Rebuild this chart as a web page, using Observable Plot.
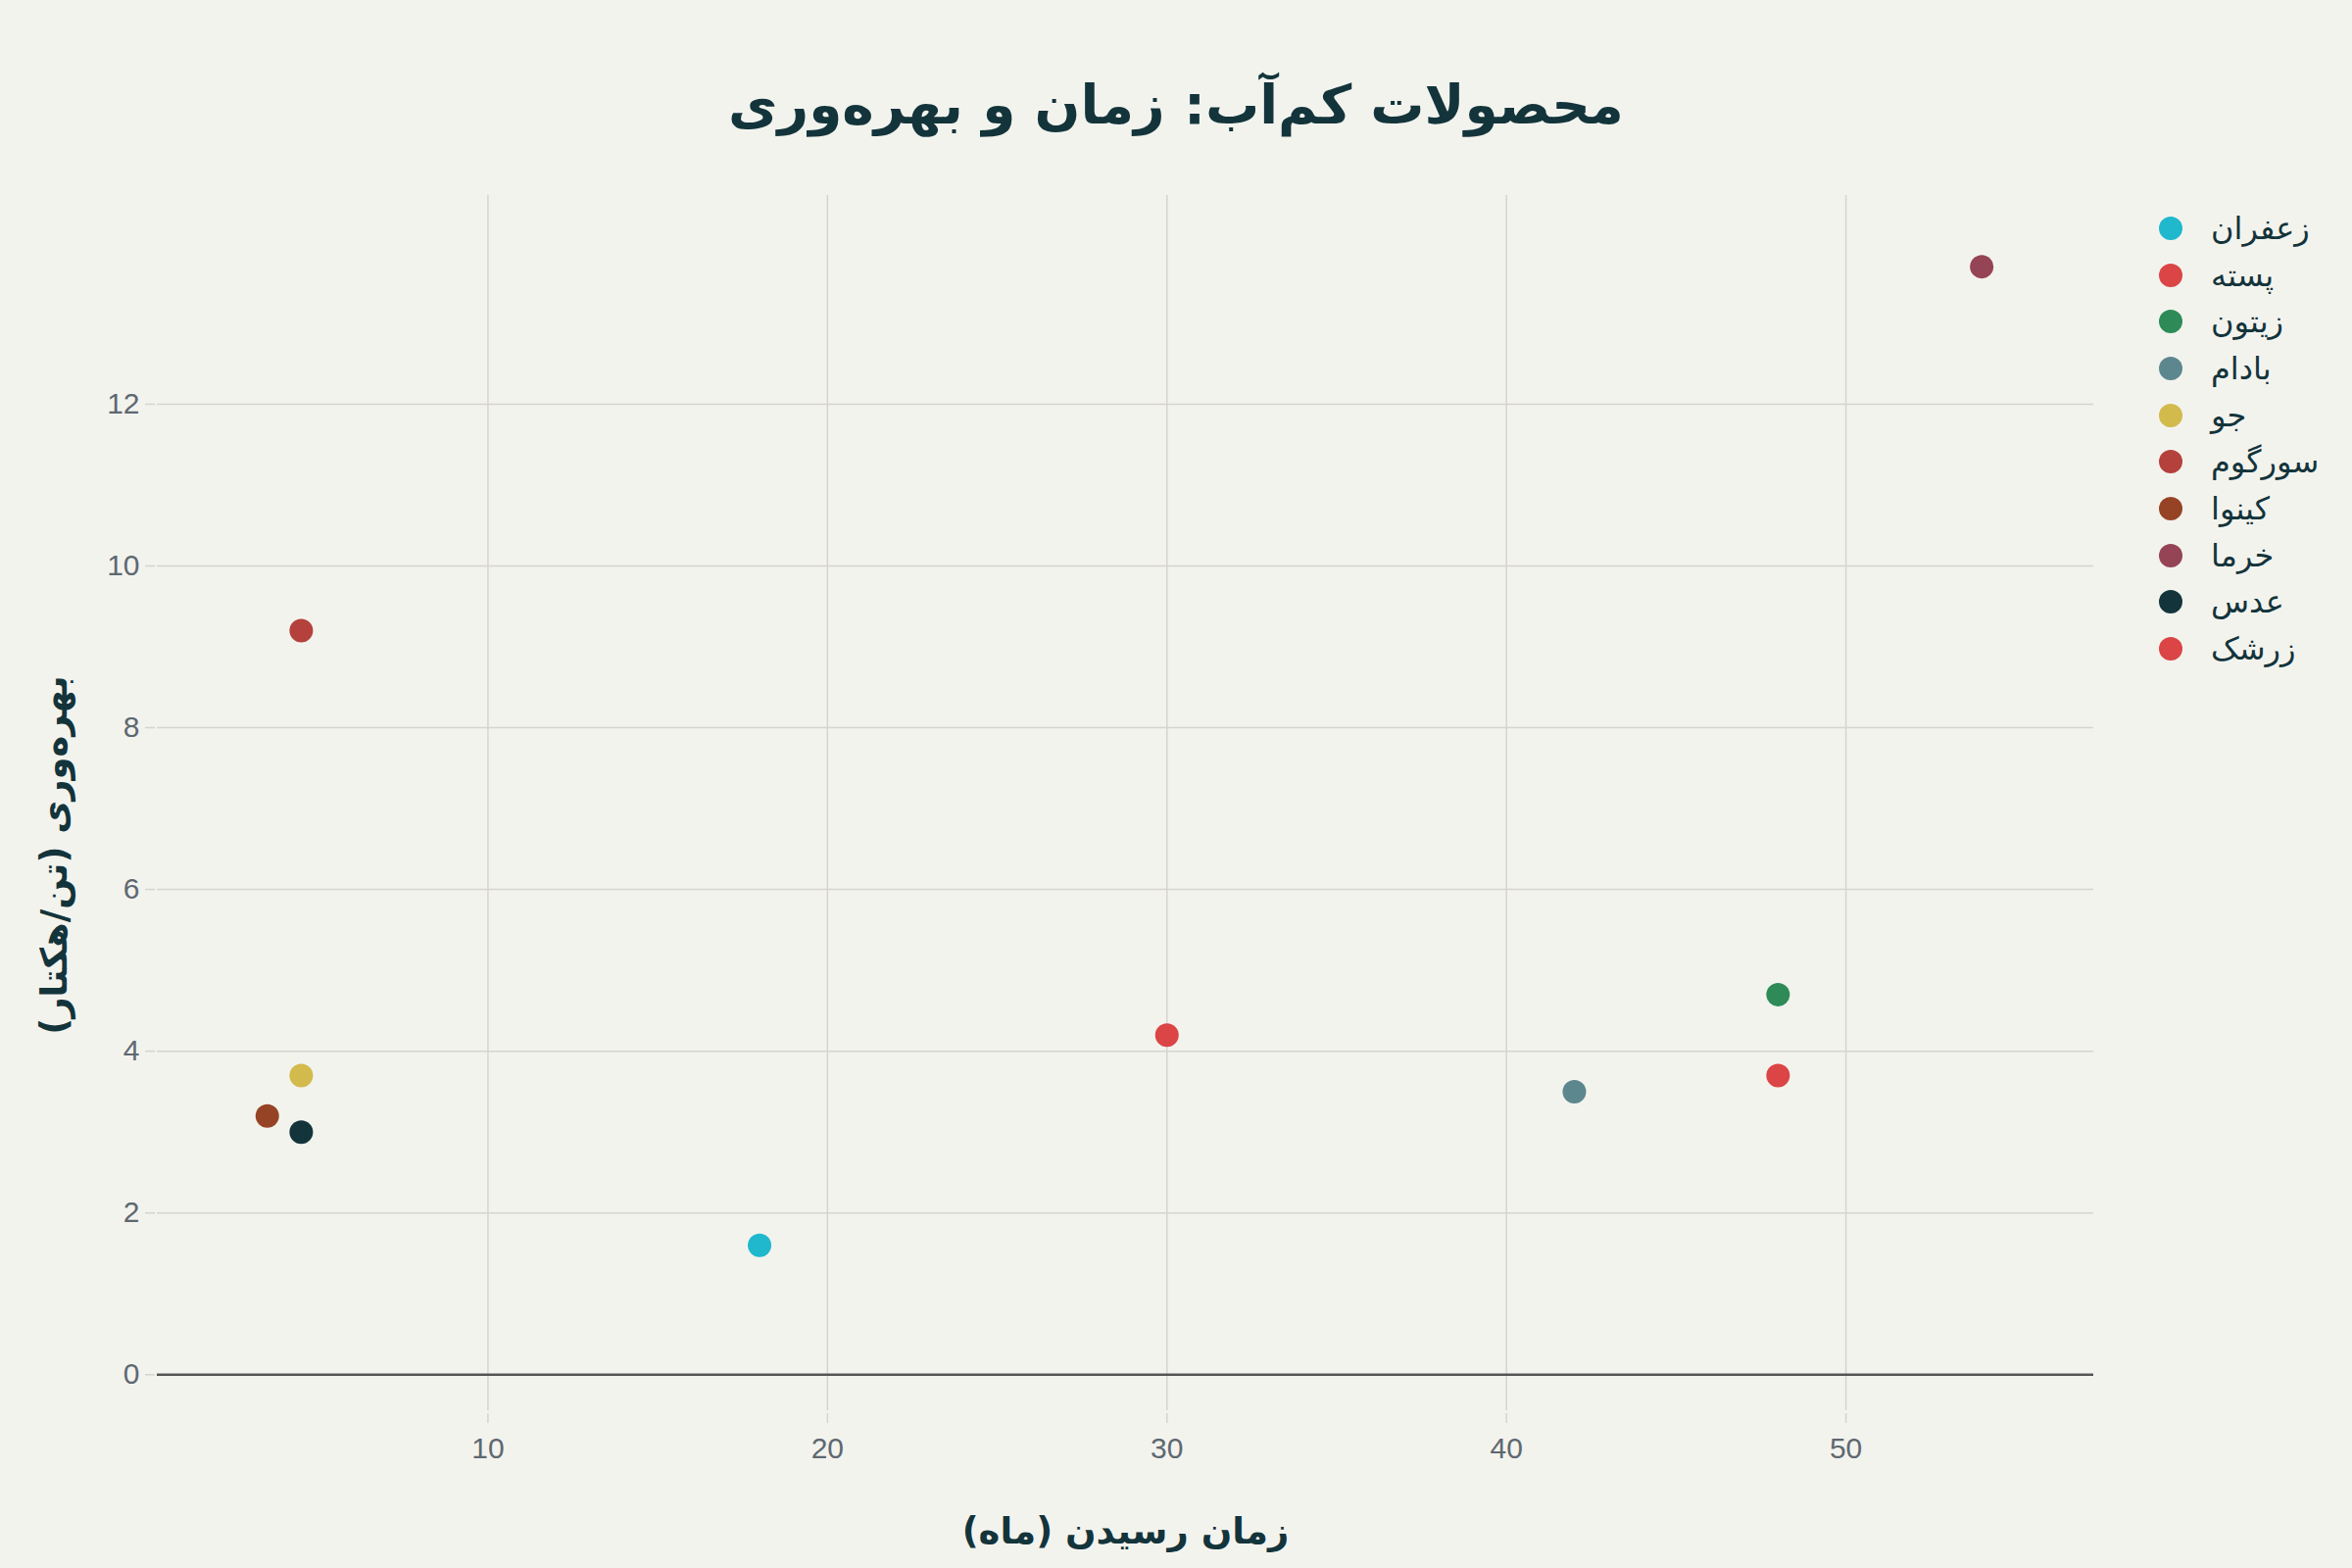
<!DOCTYPE html>
<html><head><meta charset="utf-8">
<script src="https://cdn.jsdelivr.net/npm/d3@7"></script>
<script src="https://cdn.jsdelivr.net/npm/@observablehq/plot@0.6"></script>
<style>
html,body{margin:0;padding:0;background:#f3f3ee;}
#chart{position:relative;width:2400px;height:1600px;background:#f3f3ee;overflow:hidden;}
#title{position:absolute;left:0;top:72px;width:2400px;height:70px;line-height:70px;text-align:center;
  font-family:"DejaVu Sans",sans-serif;font-weight:bold;font-size:55px;color:#13343b;}
#plot{position:absolute;left:0;top:170px;}
#plot svg text{direction:ltr;unicode-bidi:embed;}
#legend{position:absolute;left:2203px;top:209px;font-family:"DejaVu Sans",sans-serif;font-size:32px;color:#13343b;}
.row{display:flex;align-items:center;height:47.7px;}
.sw{width:24px;height:24px;border-radius:50%;flex:none;}
.lb{margin-left:29px;line-height:1;}
</style></head><body>
<div id="chart"><div id="title"></div><div id="plot"></div><div id="legend"></div></div>
<script>
const crops = ["زعفران","پسته","زیتون","بادام","جو","سورگوم","کینوا","خرما","عدس","زرشک"];
const months = [18,30,48,42,4.5,4.5,3.5,54,4.5,48];
const yields = [1.6,4.2,4.7,3.5,3.7,9.2,3.2,13.7,3.0,3.7];
const colors = ["#1FB8CD","#DB4545","#2E8B57","#5D878F","#D2BA4C","#B4413C","#964325","#944454","#13343B","#DB4545"];
const xTicks = [10,20,30,40,50];
const yTicks = [0,2,4,6,8,10,12];
const titleText = "محصولات کم‌آب: زمان و بهره‌وری";
const xLabel = "زمان رسیدن (ماه)";
const yLabel = "بهره‌وری (تن/هکتار)";

document.getElementById("title").textContent = titleText;

const data = crops.map((c, i) => ({crop: c, x: months[i], y: yields[i]}));

const gridColor = "#d5d4cf";
const labelFont = "DejaVu Sans, sans-serif";
const fmt = d => String(d);
const plot = Plot.plot({
  width: 2400, height: 1430,
  marginTop: 29, marginBottom: 161, marginLeft: 160, marginRight: 264,
  style: {background: "transparent", fontFamily: "'Liberation Sans', Arial, sans-serif", fontSize: "30px", color: "#5e6870"},
  x: {domain: [0.26, 57.3]},
  y: {domain: [-0.445, 14.58]},
  color: {type: "ordinal", domain: crops, range: colors},
  marks: [
    Plot.gridX(xTicks, {stroke: gridColor, strokeOpacity: 1, strokeWidth: 1.5}),
    Plot.gridY(yTicks, {stroke: gridColor, strokeOpacity: 1, strokeWidth: 1.5}),
    Plot.axisX(xTicks, {tickSize: 10, dy: 3, tickPadding: 14, tickFormat: fmt, stroke: gridColor, strokeWidth: 1.5, fill: "#5e6870", label: null}),
    Plot.axisY(yTicks, {tickSize: 10, dx: -2, tickPadding: 6, tickFormat: fmt, stroke: gridColor, strokeWidth: 1.5, fill: "#5e6870", label: null}),
    Plot.ruleY([0], {stroke: "#555555", strokeWidth: 2.5}),
    Plot.dot(data, {x: "x", y: "y", fill: "crop", r: 12}),
    Plot.text([xLabel], {frameAnchor: "bottom", lineAnchor: "middle", textAnchor: "middle", dy: 124,
      fontSize: 37, fontWeight: "bold", fontFamily: labelFont, fill: "#13343b"}),
    Plot.text([yLabel], {frameAnchor: "left", lineAnchor: "middle", textAnchor: "middle", rotate: -90, dx: -104, dy: 53,
      fontSize: 37, fontWeight: "bold", fontFamily: labelFont, fill: "#13343b"})
  ]
});
document.getElementById("plot").appendChild(plot);

const legend = document.getElementById("legend");
crops.forEach((c, i) => {
  const row = document.createElement("div");
  row.className = "row";
  const sw = document.createElement("span");
  sw.className = "sw";
  sw.style.background = colors[i];
  const lb = document.createElement("span");
  lb.className = "lb";
  lb.textContent = c;
  row.appendChild(sw); row.appendChild(lb);
  legend.appendChild(row);
});
</script>
</body></html>
